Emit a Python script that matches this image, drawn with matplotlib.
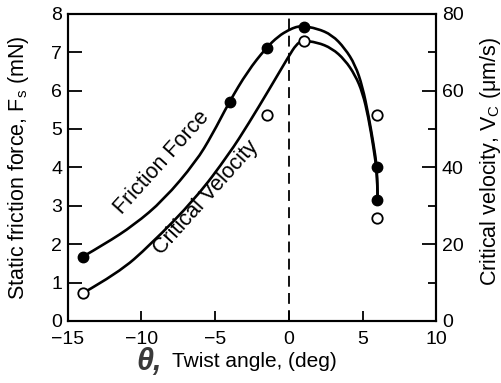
import matplotlib.pyplot as plt
import numpy as np
from matplotlib.ticker import MultipleLocator
from matplotlib.path import Path
from matplotlib.patches import PathPatch

plt.rcParams['font.family'] = ['Liberation Sans', 'DejaVu Sans']
plt.rcParams['mathtext.fontset'] = 'custom'
plt.rcParams['mathtext.rm'] = 'Liberation Sans'
plt.rcParams['mathtext.it'] = 'Liberation Sans:italic'

# measured points
force_x = [-14, -4, -1.5, 1, 6, 6]
force_y = [1.67, 5.7, 7.1, 7.65, 4.0, 3.15]          # mN
vel_x = [-14, -1.5, 1, 6, 6]
vel_y = [7.3, 53.6, 72.8, 53.6, 26.8]                # um/s

# fitted curves
fcurve_x = [-14.0, -12.5, -10.5, -8.5, -6.3, -5.2, -4.05, -2.8, -1.57, -0.7, 0.0,
            0.5, 0.9, 1.9, 2.93, 3.8, 4.5, 5.0, 5.4, 5.75, 5.97, 6.03]
fcurve_y = [1.67, 2.0, 2.5, 3.15, 4.15, 4.85, 5.7, 6.5, 7.1, 7.42, 7.58,
            7.66, 7.68, 7.62, 7.45, 7.1, 6.67, 6.1, 5.36, 4.6, 4.02, 3.15]
vcurve_x = [-14.0, -11.6, -9.4, -6.3, -4.05, -2.7, -1.35, 0.0, 0.5, 0.9, 1.9,
            2.93, 3.8, 4.5, 5.0, 5.4, 5.75, 5.97, 6.03]
vcurve_y = [7.2, 12.4, 19.8, 32.0, 43.5, 51.6, 60.2, 69.0, 72.0, 73.0, 72.6,
            71.0, 68.0, 64.0, 59.5, 53.0, 45.0, 39.0, 31.5]


def smooth(xs, ys):
    # quadratic bezier through the midpoints, the read points act as controls
    verts = [(xs[0], ys[0])]
    codes = [Path.MOVETO]
    for i in range(1, len(xs) - 1):
        verts.append((xs[i], ys[i]))
        verts.append(((xs[i] + xs[i + 1]) / 2, (ys[i] + ys[i + 1]) / 2))
        codes += [Path.CURVE3, Path.CURVE3]
    verts.append((xs[-1], ys[-1]))
    codes.append(Path.LINETO)
    return Path(verts, codes)


fig = plt.figure(figsize=(5.02, 3.83), dpi=100)
ax = fig.add_axes([0.135, 0.162, 0.734, 0.802])
ax2 = ax.twinx()

ax.add_patch(PathPatch(smooth(fcurve_x, fcurve_y), fill=False, color='black', lw=1.9,
                       capstyle='round'))
ax2.add_patch(PathPatch(smooth(vcurve_x, vcurve_y), fill=False, color='black', lw=1.9,
                        capstyle='round'))
ax.plot(force_x, force_y, 'o', color='black', ms=7.5, zorder=5)
ax2.plot(vel_x, vel_y, 'o', mfc='white', mec='black', mew=1.3, ms=7.5, zorder=5)
ax.axvline(0, color='black', lw=1.3, ls=(0, (6, 3.5)))

ax.set_xlim(-15, 10)
ax.set_ylim(0, 8)
ax2.set_ylim(0, 80)
ax.xaxis.set_major_locator(MultipleLocator(5))
ax.yaxis.set_major_locator(MultipleLocator(1))
ax2.yaxis.set_major_locator(MultipleLocator(20))
ax2.yaxis.set_minor_locator(MultipleLocator(10))

ax.tick_params(axis='both', direction='in', length=10, width=1.3, labelsize=14, pad=4)
ax.tick_params(axis='x', length=7, pad=7)
ax2.tick_params(axis='y', which='major', direction='in', length=10, width=1.3, labelsize=14, pad=4)
ax2.tick_params(axis='y', which='minor', direction='in', length=6, width=1.3)
for a in (ax, ax2):
    for s in a.spines.values():
        s.set_linewidth(1.5)

ax.set_ylabel('Static friction force, F$_\\mathrm{s}$ (mN)', fontsize=15.5)
ax2.set_ylabel('Critical velocity, V$_\\mathrm{C}$ ($\\mathrm{\\mu}$m/s)', fontsize=15.5)
ax.yaxis.set_label_coords(-0.1, 0.5)
ax2.yaxis.set_label_coords(1.113, 0.52)

fig.text(0.298, 0.055, '\u03b8,', fontsize=22, fontweight='bold', fontstyle='italic',
         color='#3a3a3a', ha='center', va='center')
fig.text(0.343, 0.055, 'Twist angle, (deg)', fontsize=15, ha='left', va='center')

ax.text(-8.65, 4.12, 'Friction Force', fontsize=15.5, rotation=48, ha='center', va='center')
ax.text(-5.6, 3.2, 'Critical Velocity', fontsize=15.5, rotation=48, ha='center', va='center')

fig.savefig('out.png', dpi=100)
